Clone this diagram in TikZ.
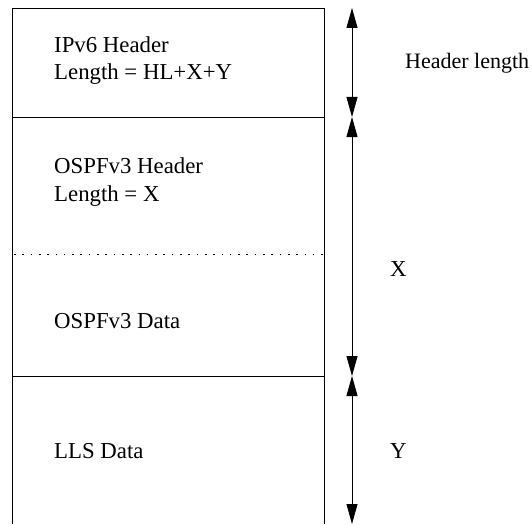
\documentclass[tikz,border=0pt]{standalone}
\usepackage{fontspec}
\setmainfont{Liberation Serif}
\usetikzlibrary{arrows.meta}
\begin{document}
\begin{tikzpicture}[x=1pt,y=-1pt,
  lbl/.style={anchor=west,inner sep=0pt,font=\fontsize{22.8}{26}\selectfont},
  dim/.style={line width=0.9pt,{Triangle[length=20pt,width=11pt]}-{Triangle[length=20pt,width=11pt]}},
  frame/.style={line width=0.9pt}]
\useasboundingbox (0,0) rectangle (532,524);
\coordinate (tl) at (12,8);
\coordinate (tr) at (324,8);
\coordinate (l1) at (12,117);
\coordinate (r1) at (324,117);
\coordinate (l2) at (14,254);
\coordinate (r2) at (324,254);
\coordinate (l3) at (12,376);
\coordinate (r3) at (324,376);
\coordinate (bl) at (12,524);
\coordinate (br) at (324,524);
\draw[frame] (bl) -- (tl) -- (tr) -- (br);
\draw[frame] (l1) -- (r1);
\draw[frame] (l3) -- (r3);
\draw[line width=0.9pt,dash pattern=on 1.6pt off 6.7pt] (l2) -- (r2);
\node[lbl] (t1) at (54,45) {IPv6 Header};
\node[lbl] (t2) at (54,74) {Length = HL+X+Y};
\node[lbl] (t3) at (54,166) {OSPFv3 Header};
\node[lbl] (t4) at (54,196) {Length = X};
\node[lbl] (t5) at (54,321) {OSPFv3 Data};
\node[lbl] (t6) at (54,451) {LLS Data};
\coordinate (a0) at (352,8);
\coordinate (a1) at (352,117);
\coordinate (a2) at (352,376);
\coordinate (a3) at (352,524);
\draw[dim] (a0) -- (a1);
\draw[dim] (a1) -- (a2);
\draw[dim] (a2) -- (a3);
\node[lbl,font=\fontsize{22}{26}\selectfont] (h) at (405,63) {Header length};
\node[lbl] (x) at (390,269) {X};
\node[lbl] (y) at (390,451) {Y};
\end{tikzpicture}
\end{document}
